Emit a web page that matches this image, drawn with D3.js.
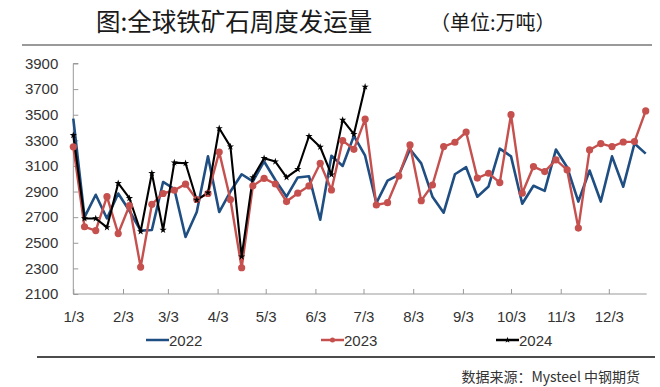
<!DOCTYPE html>
<html><head><meta charset="utf-8">
<script src="https://cdn.jsdelivr.net/npm/d3@7"></script>
<style>
html,body{margin:0;padding:0;background:#fff;}
svg{display:block;font-family:"Noto Sans CJK SC","Noto Sans",sans-serif;}
</style></head>
<body>
<svg id="chart" width="660" height="387"></svg>
<script>
const title = "图:全球铁矿石周度发运量";
const unitText = "（单位:万吨）";
const sourceText = "数据来源：Mysteel 中钢期货";
const seriesNames = ["2022", "2023", "2024"];
const seriesColors = ["#1F4E82", "#C5504E", "#000000"];
const tickLabels = ["1/3","2/3","3/3","4/3","5/3","6/3","7/3","8/3","9/3","10/3","11/3","12/3"];
const yTicks = [2100,2300,2500,2700,2900,3100,3300,3500,3700,3900];
const weekCount = 52;

const v2022 = [3470,2700,2875,2690,2885,2750,2595,2600,2975,2920,2545,2740,3175,2740,2900,3035,2980,3135,2990,2860,3010,3020,2680,3180,3100,3335,3180,2810,2985,3030,3230,3120,2860,2735,3035,3090,2860,2940,3235,3175,2805,2945,2905,3228,3090,2822,3064,2822,3175,2938,3275,3196];
const v2023 = [3250,2625,2595,2860,2572,2790,2310,2800,2885,2910,2958,2838,2885,3208,2838,2305,2944,3003,2959,2822,2887,2944,3121,2912,3298,3230,3465,2795,2813,3022,3264,2829,2951,3251,3285,3365,3005,3043,2970,3500,2887,3095,3056,3147,3069,2615,3225,3275,3251,3287,3290,3530];
const v2024 = [3340,2690,2690,2620,2965,2848,2588,3043,2600,3126,3121,2834,2891,3394,3251,2392,3010,3160,3134,3011,3074,3332,3248,3032,3459,3348,3718];

const svg = d3.select("#chart");
const baseYear = 2023;
const startDate = new Date(baseYear, 0, 3);
const weekDates = d3.range(weekCount).map(i => d3.timeDay.offset(startDate, 7 * i));
const parseTick = s => { const [m, d] = s.split("/").map(Number); return new Date(baseYear, m - 1, d); };
const tickDates = tickLabels.map(parseTick);

const x = d3.scaleTime().domain([weekDates[0], weekDates[weekCount - 1]]).range([73.3, 645.7]);
const y = d3.scaleLinear().domain([2100, 3900]).range([294, 63.5]);

// title
svg.append("text").attr("x", 96).attr("y", 31).attr("font-size", 24.5).attr("fill", "#1a1a1a").text(title);
svg.append("text").attr("x", 430).attr("y", 30).attr("font-size", 20).attr("fill", "#1a1a1a").text(unitText);
svg.append("line").attr("x1", 22).attr("x2", 652).attr("y1", 45).attr("y2", 45).attr("stroke", "#9a9a9a").attr("stroke-width", 2);

// y axis
const yAxis = svg.append("g").attr("transform", "translate(73.3,0)")
  .call(d3.axisRight(y).tickValues(yTicks).tickSize(5).tickFormat(d3.format("d")));
yAxis.select(".domain").attr("stroke", "#999").attr("d", `M5,${y(3900)}H0V${y(2100)}`);
yAxis.selectAll(".tick line").attr("stroke", "#999");
yAxis.selectAll(".tick text").attr("x", -15).attr("text-anchor", "end").attr("font-size", 15).attr("fill", "#333").attr("font-family", "Liberation Sans, Arial, sans-serif");

// x axis
const xAxis = svg.append("g").attr("transform", "translate(0,294)")
  .call(d3.axisTop(x).tickValues(tickDates).tickSize(5).tickFormat((d, i) => tickLabels[i]));
xAxis.select(".domain").attr("stroke", "#999").attr("d", `M73.3,0H646.7`);
xAxis.selectAll(".tick line").attr("stroke", "#999");
xAxis.selectAll(".tick text").attr("y", 28).attr("dy", 0).attr("font-size", 15).attr("fill", "#333").attr("font-family", "Liberation Sans, Arial, sans-serif");

// lines
const line = d3.line().x((d, i) => x(weekDates[i])).y(d => y(d));
const allSeries = [v2022, v2023, v2024];
const widths = [2.6, 2.4, 2.1];
allSeries.forEach((vals, k) => {
  svg.append("path").datum(vals).attr("d", line).attr("fill", "none")
    .attr("stroke", seriesColors[k]).attr("stroke-width", widths[k]).attr("stroke-linejoin", "round");
});
svg.append("g").selectAll("circle").data(v2023).join("circle")
  .attr("cx", (d, i) => x(weekDates[i])).attr("cy", d => y(d)).attr("r", 3.6).attr("fill", seriesColors[1]);
const star = d3.symbol().type(d3.symbolStar).size(16);
svg.append("g").selectAll("path").data(v2024).join("path")
  .attr("d", star).attr("transform", (d, i) => `translate(${x(weekDates[i])},${y(d)})`).attr("fill", "#000");

// legend
const legendX = [146, 321, 496];
seriesNames.forEach((name, k) => {
  const g = svg.append("g").attr("transform", `translate(${legendX[k]},340)`);
  g.append("line").attr("x1", 0).attr("x2", 23).attr("stroke", seriesColors[k]).attr("stroke-width", 2.5);
  if (k === 1) g.append("circle").attr("cx", 11.5).attr("r", 2.5).attr("fill", seriesColors[k]);
  if (k === 2) g.append("path").attr("d", d3.symbol().type(d3.symbolStar).size(12)).attr("transform", "translate(11.5,0)").attr("fill", "#000");
  g.append("text").attr("x", 23).attr("y", 5.5).attr("font-size", 15).attr("fill", "#333")
    .attr("font-family", "Liberation Sans, Arial, sans-serif").text(name);
});

svg.append("line").attr("x1", 37).attr("x2", 655).attr("y1", 357).attr("y2", 357).attr("stroke", "#111").attr("stroke-width", 1.5);
svg.append("text").attr("x", 640).attr("y", 382).attr("text-anchor", "end").attr("font-size", 14).attr("fill", "#333").text(sourceText);
</script>
</body></html>
